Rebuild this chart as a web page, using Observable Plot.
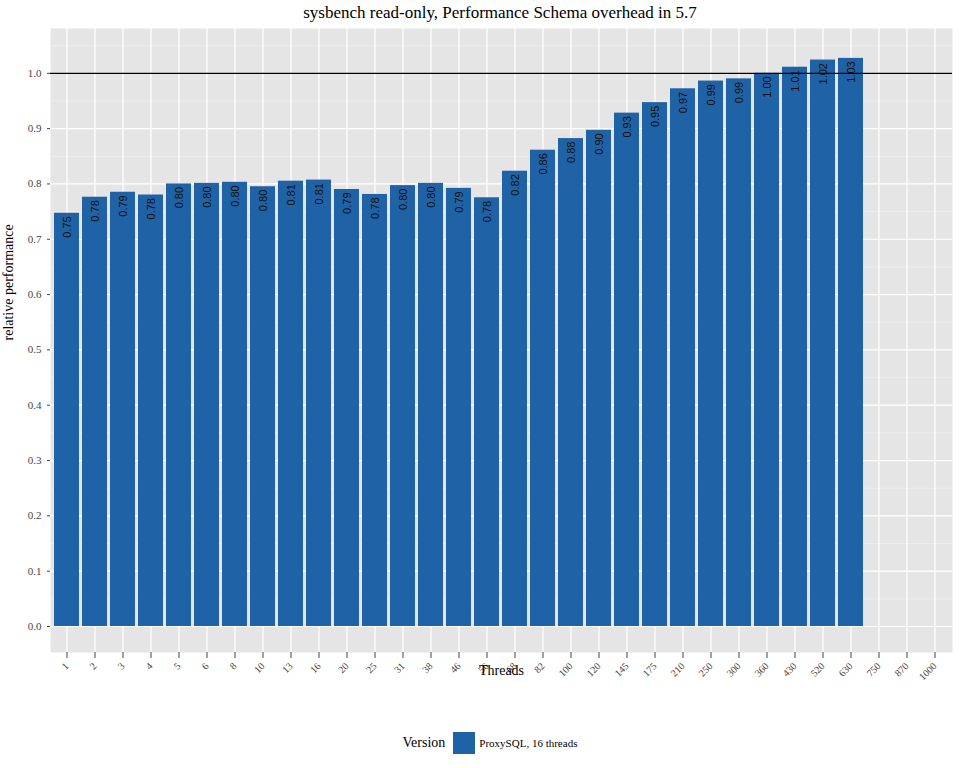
<!DOCTYPE html>
<html><head><meta charset="utf-8">
<script src="https://cdn.jsdelivr.net/npm/d3@7"></script>
<script src="https://cdn.jsdelivr.net/npm/@observablehq/plot@0.6"></script>
<style>
body{margin:0;background:#fff;font-family:"Liberation Serif","DejaVu Serif",serif;}
#title{text-align:center;font-size:17px;height:26px;line-height:26px;padding-left:40px}
#legend{display:flex;align-items:center;justify-content:center;font-size:14px;margin-top:4px;padding-left:20px}
#legend span.sw{display:inline-block;width:22px;height:22px;background:#1f63a6;margin:0 4px 0 8px}
#legend small{font-size:11px}
</style></head><body>
<div id="title">sysbench read-only, Performance Schema overhead in 5.7</div>
<div id="chart"></div>
<div id="legend">Version<span class="sw"></span><small>ProxySQL, 16 threads</small></div>
<script>
const threads = ["1","2","3","4","5","6","8","10","13","16","20","25","31","38","46","56","68","82","100","120","145","175","210","250","300","360","430","520","630","750","870","1000"];
const barThreads = threads.slice(0, 29);
const relPerf = [0.747,0.776,0.785,0.780,0.800,0.801,0.803,0.795,0.805,0.807,0.790,0.781,0.797,0.801,0.792,0.775,0.823,0.861,0.882,0.897,0.928,0.947,0.972,0.986,0.990,1.000,1.011,1.024,1.027];
const yTicks = [0,0.1,0.2,0.3,0.4,0.5,0.6,0.7,0.8,0.9,1.0];
const yMinor = [0.05,0.15,0.25,0.35,0.45,0.55,0.65,0.75,0.85,0.95,1.05];

const data = barThreads.map((t, i) => ({t, v: relPerf[i]}));

const chart = Plot.plot({
  width: 960, height: 702,
  marginTop: 2, marginLeft: 50, marginRight: 8, marginBottom: 76,
  style: {fontFamily: "Liberation Serif, DejaVu Serif, serif", fontSize: "11px", color: "#444"},
  x: {domain: threads, padding: 0.1, label: null, tickRotate: -45, tickSize: 3},
  y: {domain: [-0.047, 1.081], ticks: yTicks, tickFormat: d3.format(".1f"), label: null, tickSize: 3},
  marks: [
    Plot.frame({fill: "#e5e5e5", stroke: null}),
    Plot.ruleY(yMinor, {stroke: "#f2f2f2", strokeWidth: 0.6}),
    Plot.ruleY(yTicks, {stroke: "#fff", strokeWidth: 1.2}),
    Plot.ruleX(threads, {x: d => d, stroke: "#fff", strokeWidth: 1.2, dx: 0}),
    Plot.barY(data, {x: "t", y: "v", fill: "#1f63a6"}),
    Plot.ruleY([1], {stroke: "#000", strokeWidth: 1.2}),
    Plot.text(data, {x: "t", y: "v", text: d => d.v.toFixed(2), rotate: -90, textAnchor: "end", dy: 3,
      fontFamily: "Liberation Sans, DejaVu Sans, sans-serif", fontSize: 11, fill: "#111"}),
    Plot.axisX({tickRotate: -45, textAnchor: "end", fontSize: 10}),
    Plot.text(["Threads"], {frameAnchor: "bottom", dy: 22, fontSize: 14, fill: "#000"}),
    Plot.text(["relative performance"], {frameAnchor: "left", rotate: -90, dx: -42, fontSize: 14, fill: "#000"})
  ]
});
document.getElementById("chart").append(chart);
</script>
</body></html>
